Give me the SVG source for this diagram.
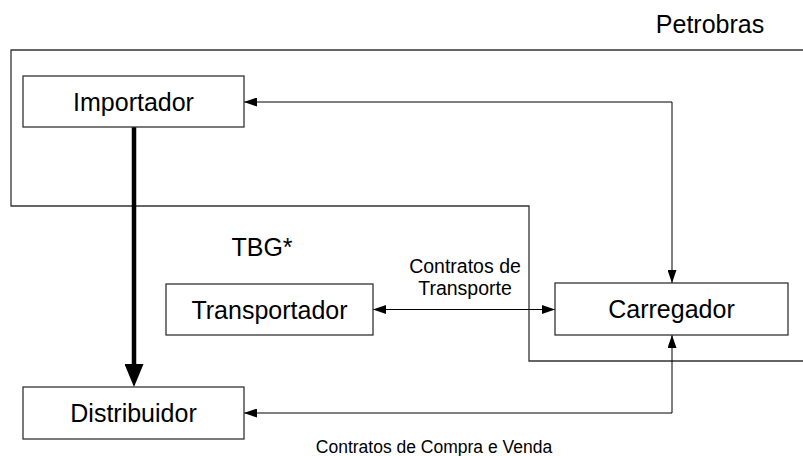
<svg xmlns="http://www.w3.org/2000/svg" width="803" height="456" viewBox="0 0 803 456">
<defs>
<style>
.box{fill:#fff;stroke:#333;stroke-width:1.3}
.lbl{font-family:"Liberation Sans",Arial,sans-serif;font-size:25px;fill:#000;text-anchor:middle}
.sm{font-family:"Liberation Sans",Arial,sans-serif;fill:#000;text-anchor:middle}
.con{fill:none;stroke:#000;stroke-width:1}
.bound{fill:none;stroke:#333;stroke-width:1.3}
</style>
<marker id="ah" markerUnits="userSpaceOnUse" markerWidth="13" markerHeight="9" refX="13" refY="4.5" orient="auto-start-reverse" viewBox="0 0 13 9">
<path d="M0,0 L13,4.5 L0,9 z" fill="#000"/>
</marker>
<marker id="thick" markerUnits="userSpaceOnUse" markerWidth="23" markerHeight="19" refX="0" refY="9.5" orient="auto" viewBox="0 0 23 19">
<path d="M0,0 L23,9.5 L0,19 z" fill="#000"/>
</marker>
</defs>
<rect width="803" height="456" fill="#fff"/>
<g id="petrobras">
<polyline class="bound" points="803,50 11,50 11,206 529,206 529,361 803,361"/>
<text class="lbl" x="710" y="33">Petrobras</text>
</g>
<g id="tbg">
<text class="lbl" x="262" y="256">TBG*</text>
</g>
<g id="connectors">
<path class="con" d="M244,102 H672 V283" marker-start="url(#ah)" marker-end="url(#ah)"/>
<path class="con" d="M373,309.5 H555" marker-start="url(#ah)" marker-end="url(#ah)"/>
<path class="con" d="M244,413 H672 V335" marker-start="url(#ah)" marker-end="url(#ah)"/>
<path d="M134,127 V364" stroke="#000" stroke-width="4.5" fill="none" marker-end="url(#thick)"/>
<text class="sm" x="465" y="273" font-size="19.5">Contratos de</text>
<text class="sm" x="465" y="295" font-size="19.5">Transporte</text>
<text class="sm" x="434" y="453" font-size="17.5">Contratos de Compra e Venda</text>
</g>
<g id="importador">
<rect class="box" x="23" y="76" width="221" height="51"/>
<text class="lbl" x="133.5" y="111">Importador</text>
</g>
<g id="transportador">
<rect class="box" x="166" y="284" width="207" height="51"/>
<text class="lbl" x="269.5" y="319">Transportador</text>
</g>
<g id="carregador">
<rect class="box" x="555" y="283" width="233" height="52"/>
<text class="lbl" x="671.5" y="318">Carregador</text>
</g>
<g id="distribuidor">
<rect class="box" x="23" y="387" width="221" height="52"/>
<text class="lbl" x="133.5" y="422">Distribuidor</text>
</g>
</svg>
